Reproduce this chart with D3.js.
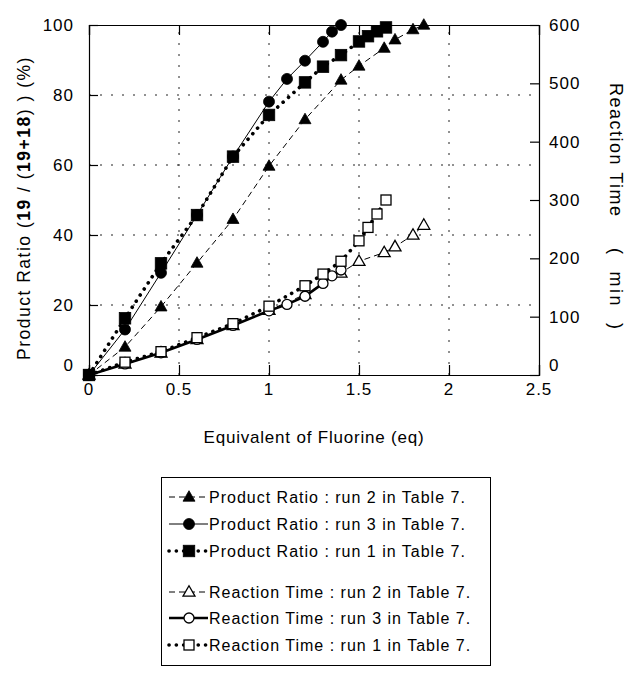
<!DOCTYPE html>
<html><head><meta charset="utf-8">
<script src="https://cdn.jsdelivr.net/npm/d3@7"></script>
<style>body{margin:0;background:#fff}svg{display:block}text{font-family:"Liberation Sans",Arial,Helvetica,sans-serif;fill:#000}</style>
</head><body><svg id="c" width="629" height="679"></svg>
<script>
// ---- data ----
const xTicks = [0, 0.5, 1, 1.5, 2, 2.5];
const xTickLabels = ["0", "0.5", "1", "1.5", "2", "2.5"];
const yLeftTicks = [0, 20, 40, 60, 80, 100];
const yRightTicks = [0, 100, 200, 300, 400, 500, 600];

const ratioRun2X = [0, 0.2, 0.4, 0.6, 0.8, 1.0, 1.2, 1.4, 1.5, 1.64, 1.7, 1.8, 1.86];
const ratioRun2Y = [0, 8, 19.5, 32, 44.5, 59.7, 73, 84.3, 88.3, 93.4, 95.8, 98.7, 100];
const ratioRun3X = [0, 0.2, 0.4, 0.6, 0.8, 1.0, 1.1, 1.2, 1.3, 1.35, 1.4];
const ratioRun3Y = [0, 13, 29.2, 45.7, 62.4, 78.1, 84.6, 89.8, 95.2, 98.1, 100];
const ratioRun1X = [0, 0.2, 0.4, 0.6, 0.8, 1.0, 1.2, 1.3, 1.4, 1.5, 1.55, 1.6, 1.65];
const ratioRun1Y = [0, 16.2, 31.9, 45.7, 62.4, 74.3, 83.6, 88.1, 91.4, 95.3, 96.8, 98.2, 99.3];

const timeRun2X = [0, 0.2, 0.4, 0.6, 0.8, 1.0, 1.2, 1.4, 1.5, 1.64, 1.7, 1.8, 1.86];
const timeRun2Y = [0, 19, 38, 61, 85, 111, 138, 175, 195, 210, 220, 240, 257];
const timeRun3X = [0, 0.2, 0.4, 0.6, 0.8, 1.0, 1.1, 1.2, 1.3, 1.35, 1.4];
const timeRun3Y = [0, 19, 38, 61, 85, 110, 121, 135, 157, 170, 180];
const timeRun1X = [0, 0.2, 0.4, 0.6, 0.8, 1.0, 1.2, 1.3, 1.4, 1.5, 1.55, 1.6, 1.65];
const timeRun1Y = [0, 22, 40, 64, 88, 118, 153, 173, 195, 230, 253, 276, 300];

const legendLabels = [
  "Product Ratio : run 2 in Table 7.",
  "Product Ratio : run 3 in Table 7.",
  "Product Ratio : run 1 in Table 7.",
  "Reaction Time : run 2 in Table 7.",
  "Reaction Time : run 3 in Table 7.",
  "Reaction Time : run 1 in Table 7."
];

// ---- layout ----
const L = 89, R = 539, T = 25, B = 375;
const svg = d3.select("#c");
const x = d3.scaleLinear().domain([0, 2.5]).range([L, R]);
const yL = d3.scaleLinear().domain([0, 100]).range([B, T]);
const yR = d3.scaleLinear().domain([0, 600]).range([B, T]);

const styles = {
  dashThin: {w: 1, dash: "6,4", cap: "butt"},
  solidThin: {w: 1, dash: null, cap: "butt"},
  dotThick: {w: 3.6, dash: "0.1,7.2", cap: "round"},
  solidThick: {w: 2.6, dash: null, cap: "butt"}
};

// gridlines
const grid = svg.append("g");
grid.selectAll("line.h").data(yLeftTicks.filter(d => d > 0 && d < 100)).join("line")
  .attr("x1", L).attr("x2", R).attr("y1", d => yL(d)).attr("y2", d => yL(d))
  .attr("stroke", "#222").attr("stroke-width", 1).attr("stroke-dasharray", "2,9");
grid.selectAll("line.v").data(xTicks.filter(d => d > 0 && d < 2.5)).join("line")
  .attr("y1", B).attr("y2", T).attr("x1", d => x(d)).attr("x2", d => x(d))
  .attr("stroke", "#222").attr("stroke-width", 1).attr("stroke-dasharray", "2,9");

// axes
const axBottom = d3.axisBottom(x).tickValues(xTicks).tickSize(-10).tickFormat("");
const axTop = d3.axisTop(x).tickValues(xTicks).tickSize(-10).tickFormat("");
const axLeft = d3.axisLeft(yL).tickValues(yLeftTicks).tickSize(-9).tickFormat("");
const axRight = d3.axisRight(yR).tickValues(yRightTicks).tickSize(-9).tickFormat("");
[[axBottom, `translate(0,${B})`], [axTop, `translate(0,${T})`], [axLeft, `translate(${L},0)`], [axRight, `translate(${R},0)`]]
  .forEach(([a, t]) => {
    const g = svg.append("g").attr("transform", t).call(a);
    g.selectAll("path,line").attr("stroke", "#000").attr("stroke-width", 1.2);
  });

// tick labels
const lab = svg.append("g").style("font-size", "17px").style("letter-spacing", "1px");
lab.selectAll("text.x").data(xTicks).join("text")
  .attr("x", d => x(d)).attr("y", 395).attr("text-anchor", "middle")
  .text((d, i) => xTickLabels[i]);
lab.selectAll("text.yl").data(yLeftTicks).join("text")
  .attr("x", 74).attr("y", d => yL(d) + 6 - (d === 0 ? 10 : 0)).attr("text-anchor", "end")
  .text(d => d);
lab.selectAll("text.yr").data(yRightTicks).join("text")
  .attr("x", 549).attr("y", d => yR(d) + 6 - (d === 0 ? 10 : 0)).attr("text-anchor", "start")
  .text(d => d);

// axis titles
const yt = svg.append("text").attr("transform", `translate(30,360) rotate(-90)`)
  .attr("text-anchor", "start").style("font-size", "17.5px").style("letter-spacing", "1.5px");
yt.append("tspan").text("Product Ratio (");
yt.append("tspan").attr("font-weight", "bold").text("19");
yt.append("tspan").text(" / (");
yt.append("tspan").attr("font-weight", "bold").text("19+18");
yt.append("tspan").text(") ) (%)");

svg.append("text").attr("transform", `translate(610,83) rotate(90)`)
  .attr("text-anchor", "start").style("font-size", "18px").style("letter-spacing", "1.5px")
  .text("Reaction Time");
svg.append("text").attr("transform", `translate(610,248) rotate(90)`)
  .attr("text-anchor", "start").style("font-size", "18px").style("letter-spacing", "2.5px")
  .style("white-space", "pre").attr("xml:space", "preserve").text("(  min  )");

svg.append("text").attr("x", (L + R) / 2).attr("y", 443).attr("text-anchor", "middle")
  .style("font-size", "17px").style("letter-spacing", "0.8px").text("Equivalent of Fluorine (eq)");

// markers
function marker(g, type, cx, cy) {
  const filled = type.startsWith("f");
  const fill = filled ? "#000" : "#fff";
  const sw = filled ? 0.8 : 1.3;
  if (type.endsWith("tri")) {
    const s = 12, h = 10.5;
    g.append("path").attr("d", `M${cx},${cy - h * 0.6}L${cx + s / 2},${cy + h * 0.4}L${cx - s / 2},${cy + h * 0.4}Z`)
      .attr("fill", fill).attr("stroke", "#000").attr("stroke-width", sw);
  } else if (type.endsWith("circ")) {
    g.append("circle").attr("cx", cx).attr("cy", cy).attr("r", filled ? 5.5 : 5)
      .attr("fill", fill).attr("stroke", "#000").attr("stroke-width", sw);
  } else {
    const s = filled ? 11.5 : 10;
    g.append("rect").attr("x", cx - s / 2).attr("y", cy - s / 2).attr("width", s).attr("height", s)
      .attr("fill", fill).attr("stroke", "#000").attr("stroke-width", sw);
  }
}

const series = [
  {xs: timeRun2X, ys: timeRun2Y, y: yR, st: "dashThin", mk: "otri"},
  {xs: timeRun3X, ys: timeRun3Y, y: yR, st: "solidThick", mk: "ocirc"},
  {xs: timeRun1X, ys: timeRun1Y, y: yR, st: "dotThick", mk: "osq"},
  {xs: ratioRun2X, ys: ratioRun2Y, y: yL, st: "dashThin", mk: "ftri"},
  {xs: ratioRun3X, ys: ratioRun3Y, y: yL, st: "solidThin", mk: "fcirc"},
  {xs: ratioRun1X, ys: ratioRun1Y, y: yL, st: "dotThick", mk: "fsq"}
];
const line = d3.line();
series.forEach(s => {
  const pts = s.xs.map((v, i) => [x(v), s.y(s.ys[i])]);
  const st = styles[s.st];
  const g = svg.append("g");
  g.append("path").attr("d", line(pts)).attr("fill", "none").attr("stroke", "#000")
    .attr("stroke-width", st.w).attr("stroke-dasharray", st.dash).attr("stroke-linecap", st.cap);
  pts.forEach(p => marker(g, s.mk, p[0], p[1]));
});

// legend
const lg = svg.append("g");
lg.append("rect").attr("x", 161.5).attr("y", 477.5).attr("width", 329).attr("height", 188)
  .attr("fill", "none").attr("stroke", "#000").attr("stroke-width", 1);
const rowsY = [497, 524, 551, 592, 618, 645];
const legendSeries = [3, 4, 5, 0, 1, 2];
legendSeries.forEach((si, i) => {
  const s = series[si], st = styles[s.st], yy = rowsY[i];
  lg.append("path").attr("d", line([[169, yy], [208, yy]])).attr("fill", "none").attr("stroke", "#000")
    .attr("stroke-width", st.w).attr("stroke-dasharray", st.dash).attr("stroke-linecap", st.cap);
  marker(lg, s.mk, 189, yy);
  lg.append("text").attr("x", 209).attr("y", yy + 6).style("font-size", "16px").style("letter-spacing", "1px")
    .text(legendLabels[i]);
});
</script></body></html>
